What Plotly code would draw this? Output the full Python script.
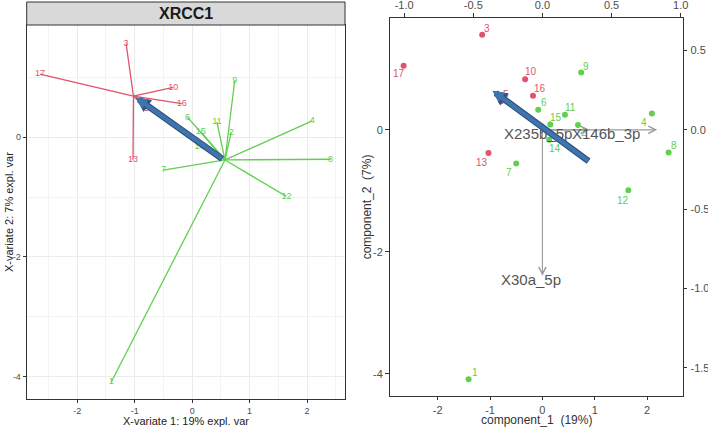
import numpy as np
import plotly.graph_objects as go

# ---------------- data ----------------
sample_ids = ["1", "2", "3", "4", "5", "6", "7", "8", "9", "10", "11", "12", "13", "14", "15", "16", "17"]
comp1 = [-1.41, 0.68, -1.15, 2.09, -0.79, -0.08, -0.50, 2.41, 0.74, -0.33, 0.43, 1.64, -1.03, 0.13, 0.15, -0.18, -2.65]
comp2 = [-4.09, 0.08, 1.56, 0.27, 0.47, 0.33, -0.55, -0.37, 0.94, 0.83, 0.25, -0.99, -0.38, -0.16, 0.09, 0.56, 1.05]
groups = ["g", "g", "r", "g", "r", "g", "g", "g", "g", "r", "g", "g", "r", "g", "g", "r", "r"]

var_names = ["X30a_5p", "X235b_5p", "X146b_3p"]
load1 = [0.0, 0.34, 0.83]
load2 = [-0.92, 0.0, 0.0]

# hand-drawn blue arrows (tail -> head)
blue_left = dict(tail=(0.55, -0.38), head=(-0.98, 0.66))
blue_right = dict(tail=(0.91, -0.53), head=(-0.95, 0.64))

# tick labels
x_ticks = [-2, -1, 0, 1, 2]
x_ticktext = ["-2", "-1", "0", "1", "2"]
y_ticks = [-4, -2, 0]
y_ticktext = ["-4", "-2", "0"]
top_ticks = [-1.0, -0.5, 0.0, 0.5, 1.0]
top_ticktext = ["-1.0", "-0.5", "0.0", "0.5", "1.0"]
right_ticks = [-1.5, -1.0, -0.5, 0.0, 0.5]
right_ticktext = ["-1.5", "-1.0", "-0.5", "0.0", "0.5"]

strip_title = "XRCC1"
left_xtitle = "X-variate 1: 19% expl. var"
left_ytitle = "X-variate 2: 7% expl. var"
right_xtitle = "component_1  (19%)"
right_ytitle = "component_2  (7%)"

# ---------------- styles ----------------
RED = "#DF536B"
GREEN = "#61D04F"
colors = {"r": RED, "g": GREEN}
FONT = "Liberation Sans, Arial, sans-serif"

# label offsets (px) for right-panel sample labels
lab_off = {"1": (6, 7), "2": (6, -8), "3": (5, 6), "4": (-8, -9), "5": (5, 7), "6": (6, 7),
           "7": (-7, -9), "8": (5, 7), "9": (5, 6), "10": (6, 8), "11": (6, 7), "12": (-5, -10),
           "13": (-6, -9), "14": (6, -9), "15": (6, 7), "16": (7, 7), "17": (-5, -8)}

W, H = 708, 428
def px_x(p): return p / W
def px_y(p): return 1 - p / H

L_dom_x = [px_x(26.7), px_x(345)]
L_dom_y = [px_y(399), px_y(25)]
R_dom_x = [px_x(390), px_x(683.3)]
R_dom_y = [px_y(396.3), px_y(18.3)]

L_xr = [-2.88, 2.66]
L_yr = [-4.37, 1.87]
R_xr = [-2.91, 2.69]
R_yr = [-4.37, 1.83]
XF, YF = 2.64, 2.60

c1 = np.array(comp1); c2 = np.array(comp2); g = np.array(groups)

fig = go.Figure()

# ---------- left panel: star plot ----------
for grp in ["r", "g"]:
    m = g == grp
    cx, cy = c1[m].mean(), c2[m].mean()
    xs, ys = [], []
    for x, y in zip(c1[m], c2[m]):
        xs += [cx, x, None]
        ys += [cy, y, None]
    fig.add_trace(go.Scatter(x=xs, y=ys, mode="lines", line=dict(color=colors[grp], width=1.3),
                             xaxis="x", yaxis="y", showlegend=False, hoverinfo="skip"))
for grp in ["r", "g"]:
    m = g == grp
    fig.add_trace(go.Scatter(x=c1[m], y=c2[m], mode="text",
                             text=[s for s, k in zip(sample_ids, groups) if k == grp],
                             textfont=dict(color=colors[grp], size=9, family=FONT),
                             xaxis="x", yaxis="y", showlegend=False))

# ---------- right panel: biplot ----------
for grp in ["r", "g"]:
    m = g == grp
    fig.add_trace(go.Scatter(x=c1[m], y=c2[m], mode="markers",
                             marker=dict(color=colors[grp], size=6),
                             xaxis="x2", yaxis="y2", showlegend=False))
# invisible trace to activate secondary axes
fig.add_trace(go.Scatter(x=load1, y=load2, mode="markers", marker=dict(opacity=0),
                         xaxis="x3", yaxis="y3", showlegend=False, hoverinfo="skip"))

annotations = []
for s, x, y, k in zip(sample_ids, comp1, comp2, groups):
    dx, dy = lab_off[s]
    annotations.append(dict(x=x, y=y, xref="x2", yref="y2", text=s, showarrow=False,
                            xshift=dx, yshift=dy, font=dict(color=colors[k], size=10, family=FONT)))

lab_shift = {"X30a_5p": (-11, -4), "X235b_5p": (-51, -4), "X146b_3p": (-51, -4)}
for name, lx, ly in zip(var_names, load1, load2):
    annotations.append(dict(x=lx, y=ly, xref="x3", yref="y3", ax=0, ay=0, axref="x3", ayref="y3",
                            text="", showarrow=True, arrowhead=5, arrowsize=1.3, arrowwidth=1.1,
                            arrowcolor="#9A9A9A"))
for name, lx, ly in zip(var_names, load1, load2):
    dx, dy = lab_shift[name]
    annotations.append(dict(x=lx, y=ly, xref="x3", yref="y3", text=name, showarrow=False,
                            xshift=dx, yshift=dy, font=dict(color="#555555", size=15, family=FONT)))

# blue arrows
for arr, xr, yr in [(blue_left, "x", "y"), (blue_right, "x2", "y2")]:
    for col, wdt, asz in [("#2C5580", 6.5, 0.45), ("#3F74AE", 4.2, 0.55)]:
        annotations.append(dict(x=arr["head"][0], y=arr["head"][1], ax=arr["tail"][0], ay=arr["tail"][1],
                                xref=xr, yref=yr, axref=xr, ayref=yr, text="", showarrow=True,
                                arrowhead=2, arrowsize=asz, arrowwidth=wdt, arrowcolor=col))

CEN = dict(xanchor="center", yanchor="middle", showarrow=False, xref="paper", yref="paper")
# strip title
annotations.append(dict(x=(L_dom_x[0] + L_dom_x[1]) / 2, y=(px_y(2) + px_y(25)) / 2,
                        text="<b>" + strip_title + "</b>",
                        font=dict(size=16, color="#1A1A1A", family=FONT), **CEN))
# axis titles
annotations += [
    dict(x=(L_dom_x[0] + L_dom_x[1]) / 2, y=px_y(420.5), text=left_xtitle,
         font=dict(size=11, color="#222", family=FONT), **CEN),
    dict(x=px_x(9), y=(L_dom_y[0] + L_dom_y[1]) / 2, text=left_ytitle, textangle=-90,
         font=dict(size=11, color="#222", family=FONT), **CEN),
    dict(x=px_x(536), y=px_y(420), text=right_xtitle,
         font=dict(size=12, color="#333", family=FONT), **CEN),
    dict(x=px_x(367), y=(R_dom_y[0] + R_dom_y[1]) / 2, text=right_ytitle, textangle=-90,
         font=dict(size=12, color="#333", family=FONT), **CEN),
]

shapes = [dict(type="rect", xref="paper", yref="paper", x0=L_dom_x[0], x1=L_dom_x[1],
               y0=px_y(25), y1=px_y(2), fillcolor="#D9D9D9", line=dict(color="#333333", width=1))]

tickL = dict(size=9, color="#4D4D4D", family=FONT)
tickR = dict(size=11, color="#4D4D4D", family=FONT)

fig.update_layout(
    width=W, height=H, margin=dict(l=0, r=0, t=0, b=0, autoexpand=False),
    paper_bgcolor="white", plot_bgcolor="white", showlegend=False,
    annotations=annotations, shapes=shapes,
    xaxis=dict(domain=L_dom_x, anchor="y", range=L_xr, tickvals=x_ticks, ticktext=x_ticktext,
               showgrid=True, gridcolor="#EBEBEB", gridwidth=1,
               minor=dict(dtick=0.5, tick0=0, showgrid=True, gridcolor="#F3F3F3", gridwidth=0.6),
               zeroline=False, showline=True, linecolor="#333333", linewidth=1, mirror=True,
               ticks="outside", ticklen=3, tickcolor="#333333", tickfont=tickL, automargin=False),
    yaxis=dict(domain=L_dom_y, anchor="x", range=L_yr, tickvals=y_ticks, ticktext=y_ticktext,
               showgrid=True, gridcolor="#EBEBEB", gridwidth=1,
               minor=dict(dtick=1, tick0=0, showgrid=True, gridcolor="#F3F3F3", gridwidth=0.6),
               zeroline=False, showline=True, linecolor="#333333", linewidth=1, mirror=True,
               ticks="outside", ticklen=3, tickcolor="#333333", tickfont=tickL, automargin=False),
    xaxis2=dict(domain=R_dom_x, anchor="y2", range=R_xr, tickvals=x_ticks, ticktext=x_ticktext,
                showgrid=False, zeroline=False,
                showline=True, linecolor="#333333", linewidth=1, ticks="outside", ticklen=3,
                ticklabelstandoff=0, tickcolor="#333333", tickfont=tickR, automargin=False),
    yaxis2=dict(domain=R_dom_y, anchor="x2", range=R_yr, tickvals=y_ticks, ticktext=y_ticktext,
                showgrid=False, zeroline=False,
                showline=True, linecolor="#333333", linewidth=1, ticks="outside", ticklen=4,
                tickcolor="#333333", tickfont=tickR, automargin=False),
    xaxis3=dict(overlaying="x2", anchor="y2", side="top", range=[R_xr[0] / XF, R_xr[1] / XF],
                tickvals=top_ticks, ticktext=top_ticktext, showgrid=False, zeroline=False, showline=True,
                linecolor="#333333", linewidth=1, ticks="outside", ticklen=4, tickcolor="#333333",
                tickfont=tickR, automargin=False),
    yaxis3=dict(overlaying="y2", anchor="x2", side="right", range=[R_yr[0] / YF, R_yr[1] / YF],
                tickvals=right_ticks, ticktext=right_ticktext, showgrid=False, zeroline=False, showline=True,
                linecolor="#333333", linewidth=1, ticks="outside", ticklen=3, ticklabelstandoff=1,
                tickcolor="#333333", tickfont=tickR, automargin=False),
)

fig.write_html("out.html", config={"displayModeBar": False},
               post_script="document.body.style.margin='0';document.body.style.overflow='hidden';")
